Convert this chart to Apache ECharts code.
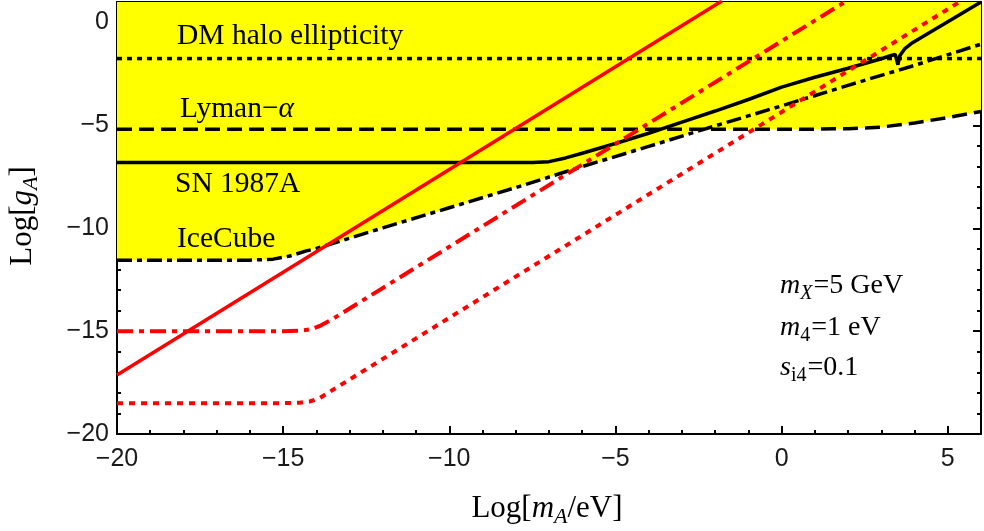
<!DOCTYPE html>
<html>
<head>
<meta charset="utf-8">
<script src="https://cdn.jsdelivr.net/npm/echarts@6/dist/echarts.min.js"></script>
<style>
html,body{margin:0;padding:0;background:#fff;}
#c{width:984px;height:531px;}
</style>
</head>
<body>
<div id="c"></div>
<script>
// ---- data (log10 values) ----
const xRange = [-20, 6];
const yRange = [-20, 1];
const xTickLabels = [-20, -15, -10, -5, 0, 5];
const yTickLabels = [-20, -15, -10, -5, 0];

const dmHalo = [[-20, -1.75], [6, -1.75]];
const lymanAlpha = [[-20, -5.18], [1, -5.18], [2, -5.16], [3, -5.08], [4, -4.88], [5, -4.62], [6, -4.32]];
const sn1987a = [[-20, -6.8], [-7.5, -6.8], [-7, -6.76], [-6.5, -6.58], [-6, -6.35], [-5, -5.88], [-4, -5.38],
  [-3, -4.84], [-2, -4.3], [-1, -3.74], [0, -3.14], [1, -2.66], [2, -2.22], [3, -1.76], [3.3, -1.6], [3.42, -1.55],
  [3.5, -2.05], [3.56, -1.6], [3.7, -1.28], [3.9, -1.02], [6, 1.0]];
const iceCube = [[-20, -11.55], [-16, -11.55], [-15.3, -11.5], [-14.8, -11.35], [-14.3, -11.1], [-14, -10.98],
  [-12, -9.98], [-10, -9.0], [-8, -8.02], [-6, -7.0], [-4, -6.02], [-2, -5.02], [0, -4.05], [2, -3.05], [4, -2.08], [6, -1.05]];
const yellowEdge = [[-20, -11.55], [-16, -11.55], [-15.3, -11.5], [-14.8, -11.35], [-14.3, -11.1], [-14, -10.98],
  [-12, -9.98], [-10, -9.0], [-8, -8.02], [-6, -7.0], [-4, -6.02], [-2.4, -5.2], [1, -5.18], [2, -5.16], [3, -5.08],
  [4, -4.88], [5, -4.62], [6, -4.32]];
const redSolid = [[-20, -17.13], [-1.8, 1.05]];
const redDashDot = [[-20, -15], [-15, -15], [-14.5, -14.98], [-14.2, -14.92], [-13.9, -14.75], [-13.5, -14.4], [1.95, 1.05]];
const redDotted = [[-20, -18.5], [-15, -18.5], [-14.5, -18.48], [-14.2, -18.42], [-13.9, -18.25], [-13.5, -17.85], [5.4, 1.05]];

const chart = echarts.init(document.getElementById('c'), null, {renderer: 'canvas'});

const serif = 'Liberation Serif';
const sans = 'Liberation Sans';
const fmt = v => (xTickLabels.includes(v) || yTickLabels.includes(v)) ? (v < 0 ? '\u2212' + Math.abs(v) : String(v)) : '';

function xAx(pos, major, labels) {
  return {
    type: 'value', min: xRange[0], max: xRange[1], interval: major ? 5 : 1, position: pos,
    axisLine: {show: !major, onZero: false, lineStyle: {color: '#000', width: 2}},
    axisTick: {show: true, inside: true, length: major ? 8 : 4, lineStyle: {color: '#000', width: 2}},
    axisLabel: {show: labels, formatter: fmt, color: '#1a1a1a', fontFamily: sans, fontSize: 25, margin: 13},
    splitLine: {show: false}
  };
}
function yAx(pos, major, labels) {
  return {
    type: 'value', min: yRange[0], max: yRange[1], interval: major ? 5 : 1, position: pos,
    axisLine: {show: !major, onZero: false, lineStyle: {color: '#000', width: 2}},
    axisTick: {show: true, inside: true, length: major ? 8 : 4, lineStyle: {color: '#000', width: 2}},
    axisLabel: {show: labels, formatter: fmt, color: '#1a1a1a', fontFamily: sans, fontSize: 25, margin: 8},
    splitLine: {show: false}
  };
}

function line(data, color, width, type, z) {
  return {
    type: 'line', data: data, xAxisIndex: 0, yAxisIndex: 0, showSymbol: false, symbol: 'none',
    smooth: false, z: z || 3, silent: true, animation: false,
    lineStyle: {color: color, width: width, type: type, cap: 'butt'}
  };
}

const txt = {fontFamily: serif, fontSize: 29.5, fill: '#000'};
const rich = {
  n: {fontFamily: serif, fontSize: 28, verticalAlign: 'top', color: '#000'},
  i: {fontFamily: serif, fontSize: 28, fontStyle: 'italic', verticalAlign: 'top', color: '#000'},
  s: {fontFamily: serif, fontSize: 20, verticalAlign: 'top', padding: [12, 1, 0, 0], color: '#000'},
  si: {fontFamily: serif, fontSize: 20, fontStyle: 'italic', verticalAlign: 'top', padding: [12, 1, 0, 0], color: '#000'}
};
const richBig = {
  n: {fontFamily: serif, fontSize: 31, verticalAlign: 'top', color: '#000'},
  i: {fontFamily: serif, fontSize: 31, fontStyle: 'italic', verticalAlign: 'top', color: '#000'},
  si: {fontFamily: serif, fontSize: 22, fontStyle: 'italic', verticalAlign: 'top', padding: [13, 0, 0, 0], color: '#000'}
};

chart.setOption({
  animation: false,
  backgroundColor: '#fff',
  grid: {left: 117, right: 2, top: 2, bottom: 97, containLabel: false},
  xAxis: [xAx('bottom', false, true), xAx('bottom', true, false), xAx('top', false, false), xAx('top', true, false)],
  yAxis: [yAx('left', false, true), yAx('left', true, false), yAx('right', false, false), yAx('right', true, false)],
  series: [
    {
      type: 'line', data: yellowEdge, xAxisIndex: 0, yAxisIndex: 0, showSymbol: false, symbol: 'none', z: 1,
      silent: true, lineStyle: {width: 0, opacity: 0}, areaStyle: {color: '#ffff00', opacity: 1, origin: 'end'}
    },
    line(dmHalo, '#000', 3.5, [5, 5], 3),
    line(lymanAlpha, '#000', 3.5, [15, 7], 3),
    line(sn1987a, '#000', 3.5, 'solid', 3),
    line(iceCube, '#000', 3.5, [15, 5, 5, 5], 3),
    line(redSolid, '#ff0000', 3.5, 'solid', 4),
    line(redDashDot, '#ff0000', 4, [16, 6, 5, 6], 4),
    line(redDotted, '#ff0000', 4, [6, 6], 4)
  ],
  graphic: [
    {type: 'text', left: 177, top: 21, style: Object.assign({text: 'DM halo ellipticity'}, txt), z: 10},
    {type: 'text', left: 180, top: 94, style: {text: '{n|Lyman\u2212}{i|\u03b1}', rich: {n: {fontFamily: serif, fontSize: 29.5, color: '#000'}, i: {fontFamily: serif, fontSize: 29.5, fontStyle: 'italic', color: '#000'}}}, z: 10},
    {type: 'text', left: 175, top: 169, style: Object.assign({text: 'SN 1987A'}, txt), z: 10},
    {type: 'text', left: 177, top: 224, style: Object.assign({text: 'IceCube'}, txt), z: 10},
    {type: 'text', left: 780, top: 272, style: {text: '{i|m}{si|X}{n|=5 GeV}', rich: rich}, z: 10},
    {type: 'text', left: 780, top: 314, style: {text: '{i|m}{s|4}{n|=1 eV}', rich: rich}, z: 10},
    {type: 'text', left: 780, top: 354, style: {text: '{i|s}{s|i4}{n|=0.1}', rich: rich}, z: 10},
    {type: 'text', x: 547, y: 493, style: {text: '{n|Log[}{i|m}{si|A}{n|/eV]}', rich: richBig, align: 'center', verticalAlign: 'top'}, z: 10},
    {type: 'text', x: 7, y: 216, rotation: Math.PI / 2, style: {text: '{n|Log[}{i|g}{si|A}{n|]}', rich: richBig, align: 'center', verticalAlign: 'top'}, z: 10}
  ]
});
</script>
</body>
</html>
